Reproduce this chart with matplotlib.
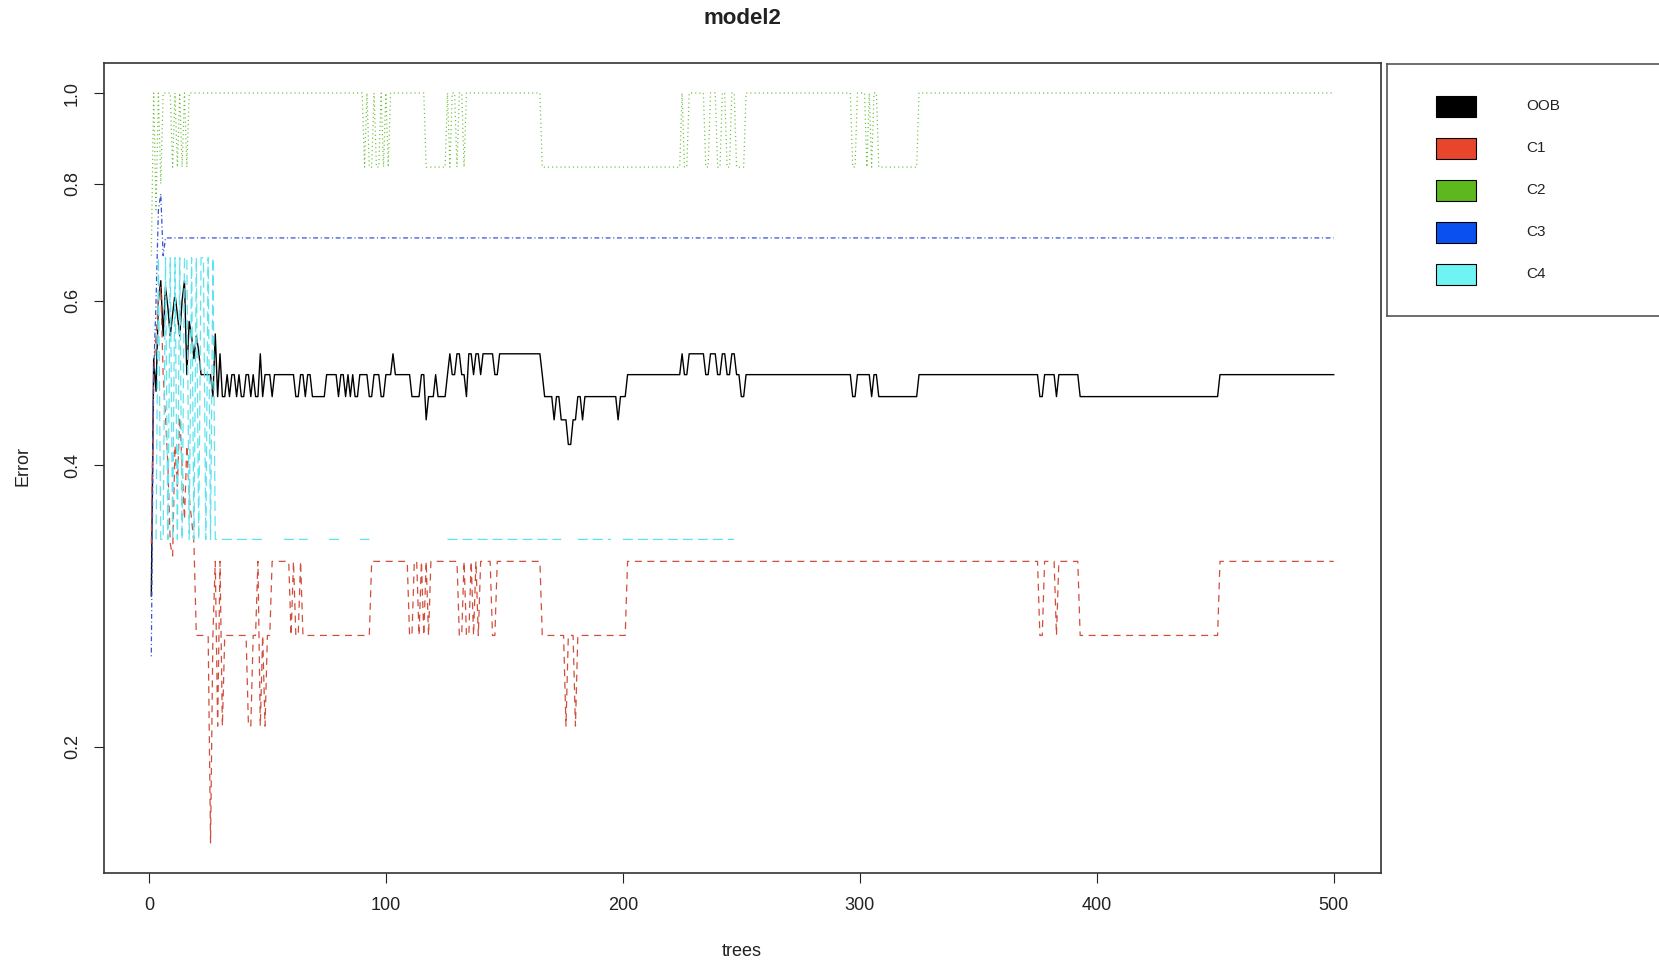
import numpy as np
import matplotlib
matplotlib.use("Agg")
import matplotlib.pyplot as plt
from matplotlib.patches import Rectangle

plt.rcParams['font.family'] = ['Liberation Sans', 'DejaVu Sans']
plt.rcParams['lines.scale_dashes'] = False

W, H = 1659, 965
N_TREES = 500

series_names = ["OOB", "C1", "C2", "C3", "C4"]
class_sizes = [38, 19, 6, 10, 3]

# Error rates of the first trees, read tree by tree
oob_first = [0.29, 0.52, 0.48, 0.60, 0.63, 0.55, 0.62, 0.59, 0.55, 0.58, 0.61,
             0.58, 0.55, 0.60, 0.63, 0.50, 0.57, 0.55, 0.52, 0.55, 0.53]
# Afterwards: tree where the number of misclassified samples changes, new count
oob_change = [22, 27, 28, 29, 30, 31, 33, 34, 35, 37, 38, 39, 41, 43, 44, 45, 47, 48, 49, 52,
              53, 62, 64, 66, 67, 69, 75, 80, 81, 83, 84, 85, 86, 87, 89, 93, 95, 98, 100, 103,
              104, 111, 115, 117, 118, 121, 122, 126, 127, 128, 130, 132, 134, 135, 137, 138, 140, 141, 146, 148,
              166, 167, 171, 172, 174, 177, 179, 181, 183, 184, 198, 199, 202, 225, 226, 228, 235, 237, 240, 242,
              244, 246, 248, 250, 252, 297, 299, 305, 306, 308, 325, 376, 378, 383, 384, 393, 452]
oob_wrong = [19, 18, 21, 18, 20, 18, 19, 18, 19, 18, 19, 18, 19, 18, 19, 18, 20, 18, 19, 18,
             19, 18, 19, 18, 19, 18, 19, 18, 19, 18, 19, 18, 19, 18, 19, 18, 19, 18, 19, 20,
             19, 18, 19, 17, 18, 19, 18, 19, 20, 19, 20, 19, 18, 20, 19, 20, 19, 20, 19, 20,
             19, 18, 17, 18, 17, 16, 17, 18, 17, 18, 17, 18, 19, 20, 19, 20, 19, 20, 19, 20,
             19, 20, 19, 18, 19, 18, 19, 18, 19, 18, 19, 18, 19, 18, 19, 18, 19]

c1_first = [0.33, 0.50, 0.55, 0.60, 0.62, 0.50, 0.45, 0.40, 0.33, 0.32,
            0.42, 0.38, 0.45, 0.40, 0.35, 0.42, 0.37, 0.35, 0.33]
c1_change = [20, 26, 27, 28, 29, 30, 31, 32, 42, 44, 46, 47, 48, 49, 50, 52, 60, 61, 62, 64,
             65, 94, 110, 112, 114, 115, 116, 117, 118, 119, 131, 133, 134, 136, 137, 138, 139, 140, 145, 147,
             166, 176, 177, 180, 181, 202, 376, 378, 383, 384, 393, 452]
c1_wrong = [5, 3, 5, 6, 4, 6, 4, 5, 4, 5, 6, 4, 5, 4, 5, 6, 5, 6, 5, 6,
            5, 6, 5, 6, 5, 6, 5, 6, 5, 6, 5, 6, 5, 6, 5, 6, 5, 6, 5, 6,
            5, 4, 5, 4, 5, 6, 5, 6, 5, 6, 5, 6]

c2_first = [0.67, 1.0, 0.75, 1.0, 0.8, 1.0, 1.0, 1.0, 1.0]
c2_change = [10, 11, 12, 13, 14, 15, 16, 17, 91, 92, 93, 95, 96, 98, 99, 100, 101, 102, 117, 126,
             127, 128, 130, 131, 133, 134, 166, 225, 226, 228, 235, 237, 240, 242, 244, 246, 248, 252, 297, 299,
             303, 304, 305, 306, 308, 325]
c2_wrong = [5, 6, 5, 6, 5, 6, 5, 6, 5, 6, 5, 6, 5, 6, 5, 6, 5, 6, 5, 6,
            5, 6, 5, 6, 5, 6, 5, 6, 5, 6, 5, 6, 5, 6, 5, 6, 5, 6, 5, 6,
            5, 6, 5, 6, 5, 6]

c3_first = [0.25, 0.50, 0.60, 0.75, 0.78, 0.67]
c3_change = [7]
c3_wrong = [7]

c4_first = [0, 0, 1/3, 2/3, 1/3, 1/3, 2/3, 1/3, 2/3, 1/3, 2/3, 1/3, 2/3, 1/3,
            2/3, 2/3, 1/3, 2/3, 1/3, 2/3, 1/3, 2/3, 2/3, 1/3, 2/3, 1/3, 2/3, 1/3]
c4_change = [29, 49, 57, 68, 76, 83, 89, 94, 126, 175, 181, 196, 200, 248]
c4_wrong = [1, 0, 1, 0, 1, 0, 1, 0, 1, 0, 1, 0, 1, 0]

line_colors = ["black", "#cf4f3d", "#6cbf3a", "#3552d6", "#5fe4ee"]
fill_colors = ["black", "#E8452D", "#5DB820", "#0A4FF0", "#6FF3F3"]
line_dashes = [None, (5.0, 4.0), (0.8, 2.2), (0.8, 1.9, 3.5, 1.9), (7.2, 3.6)]
line_widths = [1.0, 0.9, 0.9, 0.9, 0.9]


def expand(first, change, wrong, size):
    rates = np.empty(N_TREES)
    rates[:len(first)] = first
    stops = list(change[1:]) + [N_TREES + 1]
    for start, stop, k in zip(change, stops, wrong):
        rates[start - 1:stop - 1] = k / size
    # zero error cannot be shown on the log axis
    return np.where(rates > 0, rates, np.nan)


trees = np.arange(1, N_TREES + 1)
err = [
    expand(oob_first, oob_change, oob_wrong, class_sizes[0]),
    expand(c1_first, c1_change, c1_wrong, class_sizes[1]),
    expand(c2_first, c2_change, c2_wrong, class_sizes[2]),
    expand(c3_first, c3_change, c3_wrong, class_sizes[3]),
    expand(c4_first, c4_change, c4_wrong, class_sizes[4]),
]

fig = plt.figure(figsize=(W / 100, H / 100), dpi=100)
ax = fig.add_axes([104 / W, 1 - 873 / H, (1381 - 104) / W, (873 - 63) / H])

for y, c, d, lw in zip(err, line_colors, line_dashes, line_widths):
    line, = ax.plot(trees, y, color=c, lw=lw)
    if d is not None:
        line.set_dashes(d)

ax.set_yscale("log")
xpad = 0.04 * (N_TREES - 1)
ax.set_xlim(1 - xpad, N_TREES + xpad)
lo = np.log(np.nanmin(np.concatenate(err)))
hi = np.log(np.nanmax(np.concatenate(err)))
ypad = 0.04 * (hi - lo)
ax.set_ylim(np.exp(lo - ypad), np.exp(hi + ypad))

ax.set_xticks([0, 100, 200, 300, 400, 500])
ax.set_xticklabels(["0", "100", "200", "300", "400", "500"])
ax.set_yticks([0.2, 0.4, 0.6, 0.8, 1.0])
ax.set_yticklabels(["0.2", "0.4", "0.6", "0.8", "1.0"])
ax.yaxis.set_minor_locator(matplotlib.ticker.NullLocator())
ax.tick_params(axis="both", direction="out", length=7.5, width=0.8, labelsize=13,
               color="#222222", labelcolor="#222222")
ax.tick_params(axis="x", pad=10)
ax.tick_params(axis="y", pad=9)
for lab in ax.get_yticklabels():
    lab.set_rotation(90)
    lab.set_va("center")
for sp in ax.spines.values():
    sp.set_linewidth(1.2)
    sp.set_color("#333333")

fig.text(742 / W, 1 - 19 / H, "model2", ha="center", va="center",
         fontsize=16, fontweight="bold", color="#222222")
fig.text(742 / W, 1 - 952 / H, "trees", ha="center", va="center",
         fontsize=13, color="#222222")
fig.text(23 / W, 1 - 466 / H, "Error", ha="center", va="center",
         rotation=90, fontsize=13, color="#222222")

# Legend box on the right, running past the figure edge
lax = fig.add_axes([1387 / W, 1 - 316 / H, (1720 - 1387) / W, (316 - 64) / H])
lax.set_xlim(1387, 1720)
lax.set_ylim(316, 64)
lax.set_xticks([])
lax.set_yticks([])
for sp in lax.spines.values():
    sp.set_linewidth(1.2)
    sp.set_color("#555555")
row_y = [106, 148, 190, 232, 274]
for name, fc, ry in zip(series_names, fill_colors, row_y):
    lax.add_patch(Rectangle((1436, ry - 10.5), 40, 21, facecolor=fc,
                            edgecolor="black", lw=0.8))
    lax.text(1526, ry, name, ha="left", va="center", fontsize=11, color="#222222")

fig.savefig("out.png", dpi=100)
